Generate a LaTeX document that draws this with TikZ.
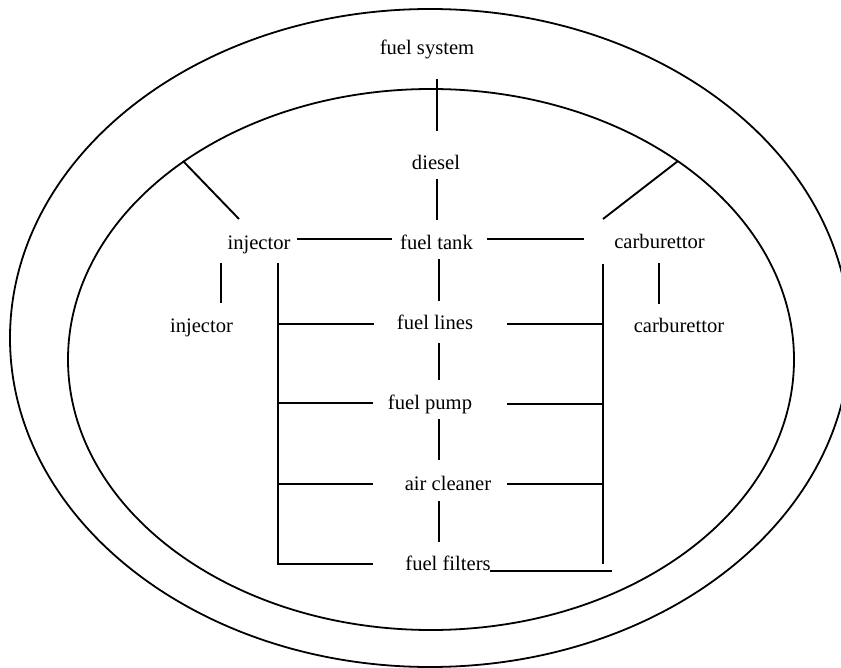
\documentclass[tikz,border=0pt]{standalone}
\usepackage{fontspec}
\setmainfont{Liberation Serif}
\begin{document}
\begin{tikzpicture}[x=1pt,y=-1pt,
  lbl/.style={anchor=base,inner sep=0pt,font=\fontsize{20.6}{24}\selectfont},
  ln/.style={line width=1.9pt},
  ring/.style={line width=1.8pt}]
\useasboundingbox (0,0) rectangle (841,668);
\clip (0,0) rectangle (841,668);
% ellipses
\draw[ring] (430,338) ellipse [x radius=420, y radius=329];
\draw[ring] (431,359.5) ellipse [x radius=363, y radius=270.5];
% labels
\node[lbl] (sys) at (427,55) {fuel system};
\node[lbl] (die) at (436,170) {diesel};
\node[lbl] (tank) at (436.5,250) {fuel tank};
\node[lbl] (inj1) at (259,250) {injector};
\node[lbl] (inj2) at (201.5,333) {injector};
\node[lbl] (car1) at (659.5,249) {carburettor};
\node[lbl] (car2) at (679,333) {carburettor};
\node[lbl] (lines) at (435,330) {fuel lines};
\node[lbl] (pump) at (430,409) {fuel pump};
\node[lbl] (air) at (448,490) {air cleaner};
\node[lbl] (filt) at (448,570) {fuel filters};
% connector endpoints
\coordinate (sysA) at (437,79);   \coordinate (sysB) at (437,131);
\coordinate (dieA) at (437,179);  \coordinate (dieB) at (437,220);
\coordinate (ltA) at (297,239);   \coordinate (ltB) at (392,239);
\coordinate (dlA) at (183,161);   \coordinate (dlB) at (239,219);
\coordinate (ijA) at (221,263);   \coordinate (ijB) at (221,303);
\coordinate (lbT) at (278,263);   \coordinate (lbB) at (278,564);
\coordinate (lbE) at (373,564);
\coordinate (tlA) at (439,259);   \coordinate (tlB) at (439,301);
\coordinate (rtA) at (487,239);   \coordinate (rtB) at (584,239);
\coordinate (drA) at (603,219);   \coordinate (drB) at (678,161);
\coordinate (rbT) at (603,264);   \coordinate (rbB) at (603,564);
\coordinate (cjA) at (659,263);   \coordinate (cjB) at (659,304);
\coordinate (lpA) at (439,343);   \coordinate (lpB) at (439,380);
\coordinate (paA) at (439,419);   \coordinate (paB) at (439,460);
\coordinate (afA) at (439,501);   \coordinate (afB) at (439,542);
\coordinate (ffA) at (490,571);   \coordinate (ffB) at (612,571);
% connectors
\draw[ln] (sysA) -- (sysB);
\draw[ln] (dieA) -- (dieB);
\draw[ln] (ltA) -- (ltB);
\draw[ln] (dlA) -- (dlB);
\draw[ln] (ijA) -- (ijB);
\draw[ln] (lbT) -- (lbB) -- (lbE);
\draw[ln] (tlA) -- (tlB);
\draw[ln] (rtA) -- (rtB);
\draw[ln] (drA) -- (drB);
\draw[ln] (rbT) -- (rbB);
\draw[ln] (cjA) -- (cjB);
\draw[ln] (lpA) -- (lpB);
\draw[ln] (paA) -- (paB);
\draw[ln] (afA) -- (afB);
\draw[ln] (ffA) -- (ffB);
% horizontal rungs
\draw[ln] (278,324) -- (374,324);
\draw[ln] (507,324) -- (603,324);
\draw[ln] (278,403) -- (373,403);
\draw[ln] (507,404) -- (603,404);
\draw[ln] (278,484) -- (373,484);
\draw[ln] (507,484) -- (603,484);
\end{tikzpicture}
\end{document}
